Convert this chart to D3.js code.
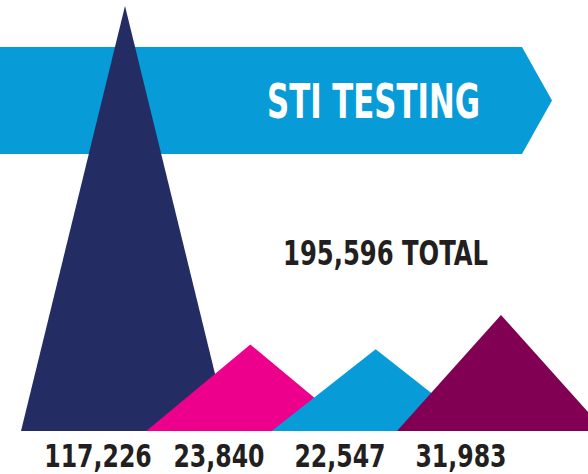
<!DOCTYPE html>
<html>
<head>
<meta charset="utf-8">
<script src="https://cdn.jsdelivr.net/npm/d3@7"></script>
<style>
  html, body { margin: 0; padding: 0; background: #fff; }
  svg { display: block; }
  text { font-family: "Liberation Sans Narrow", "DejaVu Sans Condensed", sans-serif; font-weight: bold; }
</style>
</head>
<body>
<svg id="chart"></svg>
<script>
// data
const categories = ['A', 'B', 'C', 'D']
const values = [117226, 23840, 22547, 31983]
const valueLabels = ['117,226', '23,840', '22,547', '31,983']
const colors = ['#242c64', '#ec008c', '#079bd8', '#820053']
const title = 'STI TESTING'

const width = 588
const height = 474
const baseY = 431
const halfBase = 104

const svg = d3.select('#chart')
  .attr('width', width)
  .attr('height', height)

// banner arrow
const bannerTop = 47, bannerBottom = 154, bannerEnd = 522, bannerTip = 552
svg.append('path')
  .attr('d', `M0,${bannerTop}H${bannerEnd}L${bannerTip},${(bannerTop + bannerBottom) / 2}L${bannerEnd},${bannerBottom}H0Z`)
  .attr('fill', '#079bd8')

svg.append('text')
  .attr('x', 267)
  .attr('y', 118)
  .attr('fill', '#fff')
  .attr('font-size', 48)
  .attr('textLength', 213)
  .attr('lengthAdjust', 'spacingAndGlyphs')
  .text(title)

// scales
const x = d3.scalePoint().domain(categories).range([125, 501])
const y = d3.scaleLinear().domain([0, d3.max(values)]).range([baseY, 6])
const xLabel = d3.scalePoint().domain(categories).range([98, 461])

const data = categories.map((c, i) => ({ key: c, value: values[i], label: valueLabels[i], color: colors[i] }))

// triangles
svg.selectAll('.tri')
  .data(data)
  .enter()
  .append('path')
  .attr('class', 'tri')
  .attr('fill', d => d.color)
  .attr('d', d => {
    const cx = x(d.key)
    return `M${cx - halfBase},${baseY}L${cx},${y(d.value)}L${cx + halfBase},${baseY}Z`
  })

// value labels (condensed to fit)
svg.selectAll('.val')
  .data(data)
  .enter()
  .append('text')
  .attr('class', 'val')
  .attr('x', d => xLabel(d.key))
  .attr('y', 467)
  .attr('text-anchor', 'middle')
  .attr('font-size', 32)
  .attr('fill', '#231f20')
  .text(d => d.label)
  .each(function () {
    const w = this.getComputedTextLength()
    d3.select(this)
      .attr('textLength', w * 0.82)
      .attr('lengthAdjust', 'spacingAndGlyphs')
  })

// total
svg.append('text')
  .attr('x', 283)
  .attr('y', 265)
  .attr('font-size', 33)
  .attr('fill', '#231f20')
  .attr('textLength', 205)
  .attr('lengthAdjust', 'spacingAndGlyphs')
  .text(`${d3.format(',')(d3.sum(values))} TOTAL`)
</script>
</body>
</html>
